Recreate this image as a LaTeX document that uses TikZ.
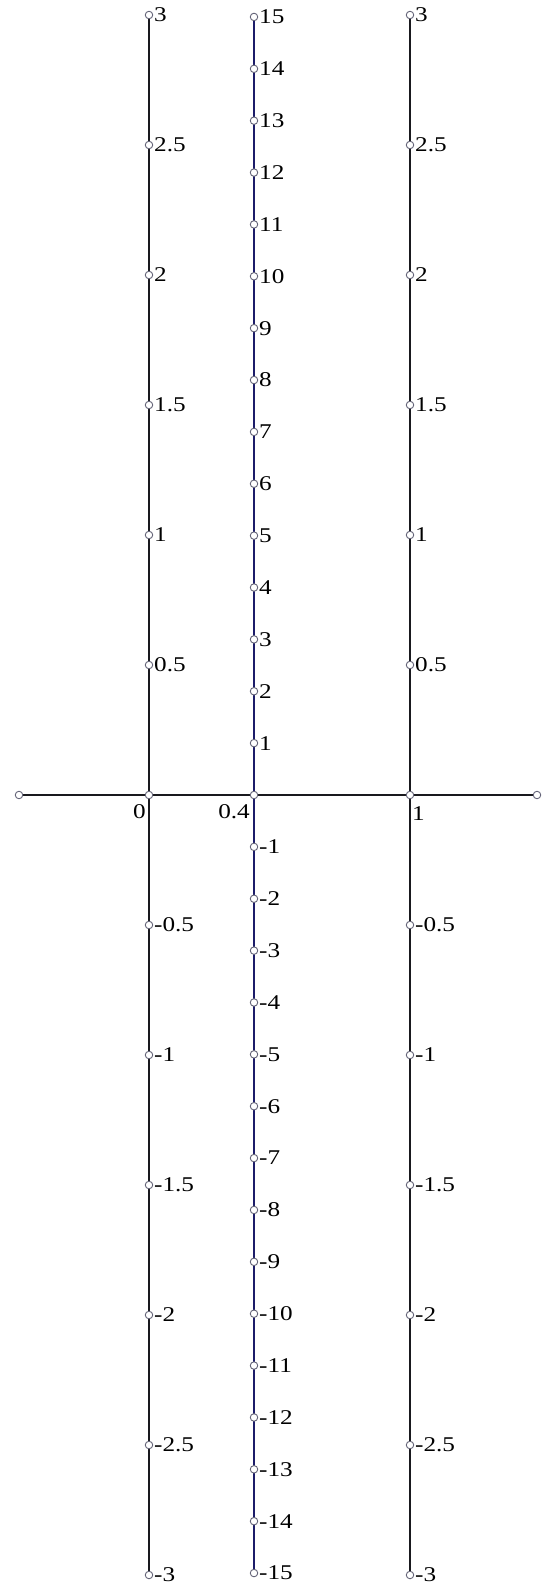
\documentclass[tikz,border=0pt]{standalone}
\usepackage{fontspec}
\setmainfont{Liberation Serif}
\definecolor{navy}{RGB}{28,28,105}
\definecolor{dark}{RGB}{25,25,30}
\definecolor{ptgray}{RGB}{100,100,120}
\newcommand\wtxt[1]{\scalebox{1.2}[1]{#1}}
\begin{document}
\begin{tikzpicture}[x=1pt,y=-1pt,
  pt/.style={circle,draw=ptgray,fill=white,line width=0.9pt,minimum size=7.5pt,inner sep=0pt},
  lbl/.style={anchor=west,inner sep=0pt,xshift=5pt,font=\fontsize{21}{23}\selectfont},
  ax/.style={line width=2.3pt,dark},
  midax/.style={line width=2.3pt,navy}]
\useasboundingbox (0,0) rectangle (541,1586);
% axis coordinates
\coordinate (H0) at (19,795);
\coordinate (H1) at (537,795);
\coordinate (X0) at (149,795);
\coordinate (X4) at (254,795);
\coordinate (X1) at (410,795);
\coordinate (Ltop) at (149,15);
\coordinate (Lbot) at (149,1575);
\coordinate (Rtop) at (410,15);
\coordinate (Rbot) at (410,1575);
\coordinate (Mtop) at (254,17);
\coordinate (Mbot) at (254,1573);
% lines
\draw[ax] (H0) -- (H1);
\draw[ax] (Ltop) -- (Lbot);
\draw[ax] (Rtop) -- (Rbot);
\draw[midax] (Mtop) -- (Mbot);
% left and right scales
\foreach \v [count=\n] in {3,2.5,2,1.5,1,0.5,-0.5,-1,-1.5,-2,-2.5,-3}{
  \node[pt] (L\n) at (149,{795-260*\v}) {};
  \node[lbl] (LT\n) at (L\n.center) {\wtxt{\v}};
  \node[pt] (R\n) at (410,{795-260*\v}) {};
  \node[lbl] (RT\n) at (R\n.center) {\wtxt{\v}};
}
% middle scale
\foreach \v [count=\n] in {15,14,13,12,11,10,9,8,7,6,5,4,3,2,1,-1,-2,-3,-4,-5,-6,-7,-8,-9,-10,-11,-12,-13,-14,-15}{
  \node[pt] (M\n) at (254,{795-51.87*\v}) {};
  \node[lbl] (MT\n) at (M\n.center) {\wtxt{\v}};
}
% axis points
\node[pt] (P0) at (H0) {};
\node[pt] (P1) at (H1) {};
\node[pt] (Q0) at (X0) {};
\node[pt] (Q4) at (X4) {};
\node[pt] (Q1) at (X1) {};
\node[anchor=north east,inner sep=0pt,font=\fontsize{21}{23}\selectfont] (T0) at (146,804) {\wtxt{0}};
\node[anchor=north east,inner sep=0pt,font=\fontsize{21}{23}\selectfont] (T4) at (250,804) {\wtxt{0.4}};
\node[anchor=north west,inner sep=0pt,font=\fontsize{21}{23}\selectfont] (T1) at (412,806) {\wtxt{1}};
\end{tikzpicture}
\end{document}
